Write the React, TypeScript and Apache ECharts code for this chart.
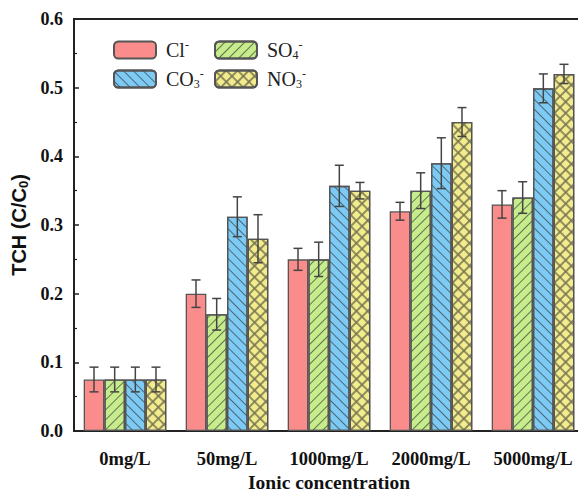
import React, { useEffect, useRef } from "react";
import * as echarts from "echarts";

const categories = ["0mg/L", "50mg/L", "1000mg/L", "2000mg/L", "5000mg/L"];
const seriesNames = ["Cl-", "SO4-", "CO3-", "NO3-"];
const clValues = [0.075, 0.2, 0.25, 0.32, 0.33];
const so4Values = [0.075, 0.17, 0.25, 0.35, 0.34];
const co3Values = [0.075, 0.312, 0.357, 0.39, 0.499];
const no3Values = [0.075, 0.28, 0.35, 0.45, 0.52];
const clErr = [0.018, 0.02, 0.016, 0.013, 0.02];
const so4Err = [0.018, 0.023, 0.025, 0.026, 0.023];
const co3Err = [0.018, 0.029, 0.03, 0.037, 0.021];
const no3Err = [0.018, 0.035, 0.012, 0.021, 0.014];
const yTicks = [0, 0.1, 0.2, 0.3, 0.4, 0.5, 0.6];

const colors = ["#FA8C8C", "#C6EC8C", "#7DCBF5", "#F2EC8C"];
const CAT_GAP = 0.19;

export default function App() {
  const ref = useRef<HTMLDivElement>(null);
  useEffect(() => {
    document.body.style.margin = "0";
    const chart = echarts.init(ref.current!, null, { renderer: "svg" });
    const values = [clValues, so4Values, co3Values, no3Values];
    const errs = [clErr, so4Err, co3Err, no3Err];
    const hatchColor = "rgba(50,50,50,0.65)";
    const decals: any[] = [
      undefined,
      { symbol: "rect", symbolSize: 1, dashArrayX: [1, 0], dashArrayY: [1, 6], rotation: -Math.PI / 4, color: hatchColor },
      { symbol: "rect", symbolSize: 1, dashArrayX: [1, 0], dashArrayY: [1, 6], rotation: Math.PI / 4, color: hatchColor },
      {
        symbol: "path://M0,0L10,0L10,10L0,10Z M1,1L1,9L9,9L9,1Z",
        symbolSize: 1,
        dashArrayX: [8, 0],
        dashArrayY: [8, 0],
        rotation: Math.PI / 4,
        color: hatchColor,
      },
    ];
    const serif = "'Liberation Serif', 'Times New Roman', serif";
    const sans = "'Liberation Sans', Arial, sans-serif";
    const rich = {
      f: { fontFamily: serif, fontSize: 20, color: "#222", padding: [0, 0, 0, 5] },
      sub: { fontFamily: serif, fontSize: 12, color: "#222", padding: [10, 0, 0, 0] },
      sup: { fontFamily: serif, fontSize: 12, color: "#222", padding: [0, 0, 10, 0] },
    };
    const legendLabels: Record<string, string> = {
      "Cl-": "{f|Cl}{sup|-}",
      "SO4-": "{f|SO}{sub|4}{sup|-}",
      "CO3-": "{f|CO}{sub|3}{sup|-}",
      "NO3-": "{f|NO}{sub|3}{sup|-}",
    };
    const legendPos = [
      [108, 34],
      [209, 34],
      [108, 63],
      [209, 63],
    ];
    const errData: any[] = [];
    errs.forEach((arr, s) => {
      arr.forEach((e, c) => errData.push([c, values[s][c], e, s]));
    });

    const option: any = {
      animation: false,
      backgroundColor: "#fff",
      grid: {
        left: 74,
        top: 19,
        width: 510,
        height: 412,
        outerBoundsMode: "none",
        containLabel: false,
        show: true,
        borderColor: "#222",
        borderWidth: 2,
        backgroundColor: "transparent",
      },
      legend: seriesNames.map((n, i) => ({
        data: [n],
        left: legendPos[i][0],
        top: legendPos[i][1],
        itemWidth: 42,
        itemHeight: 17,
        itemGap: 5,
        selectedMode: false,
        formatter: (name: string) => legendLabels[name],
        textStyle: { rich, fontFamily: serif, fontSize: 20, color: "#222" },
      })),
      xAxis: {
        type: "category",
        data: categories,
        name: "Ionic concentration",
        nameLocation: "middle",
        nameGap: 35,
        nameTextStyle: { fontFamily: serif, fontWeight: "bold", fontSize: 19.5, color: "#111" },
        axisLine: { lineStyle: { color: "#222", width: 2 } },
        axisTick: { inside: true, length: 4, lineStyle: { color: "#222", width: 1.5 } },
        axisLabel: {
          interval: 0,
          hideOverlap: false,
          fontFamily: serif,
          fontWeight: "bold",
          fontSize: 18.5,
          color: "#111",
          margin: 18,
        },
      },
      yAxis: {
        type: "value",
        min: 0,
        max: 0.6,
        interval: 0.1,
        name: "TCH (C/C{s|0})",
        nameLocation: "middle",
        nameGap: 40,
        nameTextStyle: {
          fontFamily: sans,
          fontWeight: "bold",
          fontSize: 20,
          color: "#111",
          rich: {
            s: {
              fontFamily: sans,
              fontWeight: "bold",
              fontSize: 13,
              color: "#111",
              padding: [9, 0, 0, 0],
            },
          },
        },
        axisLine: { show: true, lineStyle: { color: "#222", width: 2 } },
        axisTick: { show: true, inside: true, length: 5, lineStyle: { color: "#222", width: 1.5 } },
        minorTick: { show: true, splitNumber: 2, length: 3, lineStyle: { color: "#222", width: 1.2 } },
        splitLine: { show: false },
        axisLabel: {
          fontFamily: serif,
          fontWeight: "bold",
          fontSize: 18,
          color: "#111",
          margin: 11,
          formatter: (v: number) => (yTicks.some((t) => Math.abs(t - v) < 1e-9) ? v.toFixed(1) : ""),
        },
      },
      series: [
        ...seriesNames.map((n, i) => ({
          name: n,
          type: "bar",
          data: values[i],
          barGap: "0%",
          barCategoryGap: CAT_GAP * 100 + "%",
          itemStyle: {
            color: colors[i],
            borderColor: "#555",
            borderWidth: 1.3,
            decal: decals[i],
          },
        })),
        {
          type: "custom",
          name: "err",
          data: errData,
          encode: { x: 0, y: 1 },
          z: 10,
          renderItem: (params: any, api: any) => {
            const cat = api.value(0);
            const val = api.value(1);
            const err = api.value(2);
            const s = api.value(3);
            const c = api.coord([cat, val]);
            const band = api.size([1, 0])[0];
            const bw = (band * (1 - CAT_GAP)) / 4;
            const x = c[0] + (s - 1.5) * bw;
            const yt = api.coord([cat, val + err])[1];
            const yb = api.coord([cat, val - err])[1];
            const cap = 4.5;
            const st = { stroke: "#444", lineWidth: 1.5 };
            return {
              type: "group",
              children: [
                { type: "line", shape: { x1: x, y1: yt, x2: x, y2: yb }, style: st },
                { type: "line", shape: { x1: x - cap, y1: yt, x2: x + cap, y2: yt }, style: st },
                { type: "line", shape: { x1: x - cap, y1: yb, x2: x + cap, y2: yb }, style: st },
              ],
            };
          },
        },
      ],
    };
    chart.setOption(option);
    return () => chart.dispose();
  }, []);
  return <div ref={ref} style={{ width: 578, height: 492 }} />;
}
